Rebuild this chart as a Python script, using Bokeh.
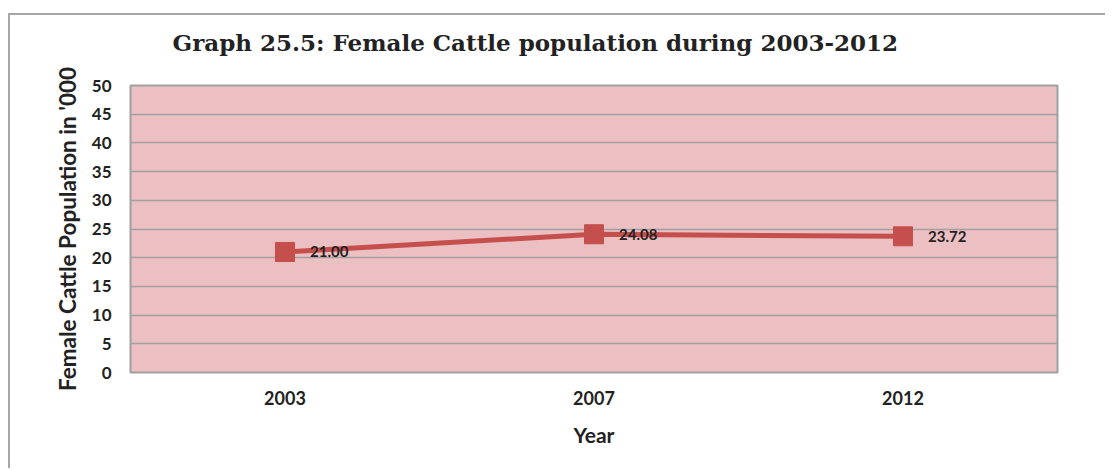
from bokeh.plotting import figure
from bokeh.models import ColumnDataSource, FactorRange, Range1d, FixedTicker, Title, LabelSet
from bokeh.core.properties import value
from bokeh.embed import file_html
from bokeh.resources import INLINE

years = ["2003", "2007", "2012"]
population = [21.00, 24.08, 23.72]
labels = ["21.00", "24.08", "23.72"]
y_ticks = [0, 5, 10, 15, 20, 25, 30, 35, 40, 45, 50]
title_text = "Graph 25.5:  Female Cattle population during 2003-2012"

src = ColumnDataSource(dict(x=years, y=population, lab=labels))

p = figure(
    x_range=FactorRange(*years, range_padding=0),
    y_range=Range1d(0, 50),
    frame_width=927, frame_height=287,
    min_border_left=122, min_border_right=48,
    min_border_top=85, min_border_bottom=96,
    output_backend="svg", toolbar_location=None,
)
p.styles = {"margin-left": "8px",
            "background": ("linear-gradient(#a6a6a6, #a6a6a6) 0 13px / 100% 2px no-repeat, "
                           "linear-gradient(#a6a6a6, #a6a6a6) 0 13px / 2px 100% no-repeat, white")}

t = Title(text=title_text, text_font="DejaVu Serif", text_font_size="23px",
          text_font_style="bold", text_color="#222222", align="left", offset=42,
          standoff=56, vertical_align="top")
p.add_layout(t, "above")

p.border_fill_alpha = 0
p.background_fill_color = "#ecbfc2"
p.outline_line_color = "#a0a0a0"
p.outline_line_width = 2

p.xgrid.grid_line_color = None
p.ygrid.grid_line_color = "#a0a0a0"
p.ygrid.grid_line_width = 1.5
p.yaxis.ticker = FixedTicker(ticks=y_ticks)

for ax in (p.xaxis, p.yaxis):
    ax.axis_line_color = None
    ax.major_tick_line_color = None
    ax.minor_tick_line_color = None
    ax.major_label_text_font = "Lato"
    ax.major_label_text_font_style = "bold"
    ax.major_label_text_font_size = "17px"
    ax.major_label_text_color = "#222222"
    ax.axis_label_text_font = "Lato"
    ax.axis_label_text_font_style = "bold"
    ax.axis_label_text_font_size = "21px"
    ax.axis_label_text_color = "#222222"

p.yaxis.axis_label_text_font_size = "22.5px"
p.yaxis.major_label_standoff = 13
p.yaxis.axis_label = "Female Cattle Population in '000"
p.yaxis.axis_label_standoff = 8
p.xaxis.major_label_text_font_size = "18px"
p.xaxis.major_label_standoff = 12
p.xaxis.axis_label = "Year"
p.xaxis.axis_label_standoff = 14

p.line("x", "y", source=src, line_color="#c44f4d", line_width=5)
p.scatter("x", "y", source=src, marker="square", size=19,
          fill_color="#c44f4d", line_color="#c44f4d")

p.add_layout(LabelSet(x="x", y="y", text="lab", source=src, x_offset=25, y_offset=0,
                      text_font=value("Lato"), text_font_style="bold", text_font_size="15px",
                      text_color="#222222", text_baseline="middle", text_align="left"))

open("out.html", "w").write(file_html(p, INLINE))
